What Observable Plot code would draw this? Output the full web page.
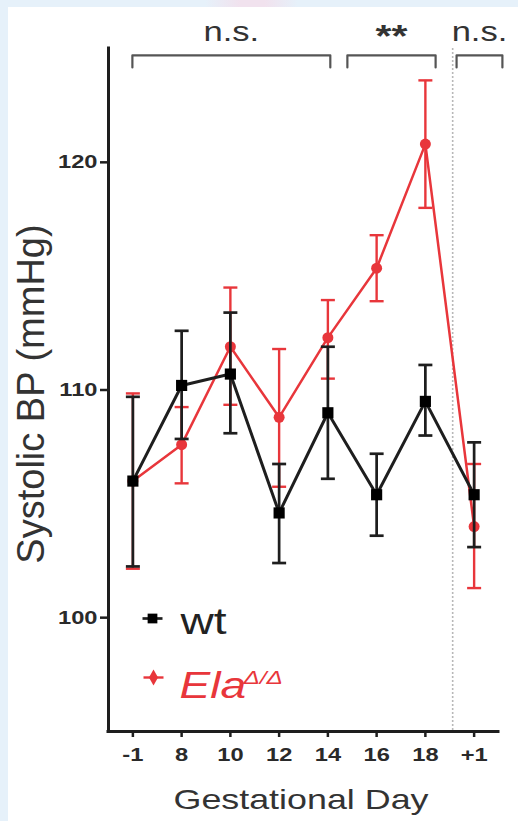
<!DOCTYPE html>
<html><head><meta charset="utf-8">
<script src="https://cdn.jsdelivr.net/npm/d3@7"></script>
<script src="https://cdn.jsdelivr.net/npm/@observablehq/plot@0.6"></script>
<style>
html,body{margin:0;padding:0;background:#fff;}
#chart svg{display:block;}
</style></head><body><div id="chart"></div>
<script>
// ---- data ----
const days = ["-1","8","10","12","14","16","18","+1"];
const wtMean = [106.0,110.2,110.7,104.6,109.0,105.4,109.5,105.4];
const wtLo   = [102.25,107.85,108.1,102.4,106.1,103.6,108.0,103.1];
const wtHi   = [109.7,112.6,113.4,106.75,111.9,107.2,111.1,107.7];
const elaMean = [106.0,107.6,111.9,108.8,112.3,115.35,120.8,104.0];
const elaLo   = [102.15,105.9,109.35,105.75,110.5,113.9,118.0,101.3];
const elaHi   = [109.85,109.25,114.5,111.8,113.95,116.8,123.6,106.75];
const yTicks = [100,110,120];
const sigLabels = ["n.s.","**","n.s."];
const sigStart = [-0.01, 4.40, 6.64];   // day-index units
const sigEnd   = [4.05, 6.21, 7.58];
const separatorAt = 6.56;               // between day 18 and +1

// ---- tables ----
const wt = days.map((d,i)=>({i, mean:wtMean[i], lo:wtLo[i], hi:wtHi[i]}));
const ela = days.map((d,i)=>({i, mean:elaMean[i], lo:elaLo[i], hi:elaHi[i]}));
const caps = rows => rows.flatMap(r=>[{i:r.i,y:r.lo},{i:r.i,y:r.hi}]);
const bracketTop = 124.7, bracketLeg = 124.17;
const brackets = sigLabels.flatMap((s,k)=>[
  {k,x:sigStart[k],y:bracketLeg},{k,x:sigStart[k],y:bracketTop},
  {k,x:sigEnd[k],y:bracketTop},{k,x:sigEnd[k],y:bracketLeg}]);
const sig = sigLabels.map((s,k)=>({s, x:(sigStart[k]+sigEnd[k])/2}));

const BLACK = "#1e1e1e", RED = "#e8363b";
const capSymbol = w => ({draw(ctx){ ctx.moveTo(-w,0); ctx.lineTo(w,0); }});

const svg = Plot.plot({
  width: 518, height: 821,
  marginLeft: 108, marginRight: 20, marginTop: 48, marginBottom: 90,
  style: "font-family: 'Liberation Sans', Arial, sans-serif; color:#222;" +
    "background: linear-gradient(to right, #e6f1fa 8px, rgba(255,255,255,0) 8px)," +
    "linear-gradient(to right, rgba(243,227,237,0) 205px, #f1e2ee 240px, #f1e2ee 265px, rgba(243,227,237,0) 298px) 0 0 / 100% 7px no-repeat," +
    "linear-gradient(to bottom, #e6f1fa 7px, #ffffff 7px);",
  x: {type: "linear", domain: [-0.5, 7.5]},
  y: {domain: [95, 125]},
  marks: [
    // separator
    Plot.ruleX([separatorAt], {stroke: "#b8b8b8", strokeWidth: 1.6, strokeDasharray: "2,2"}),
    // significance brackets
    Plot.line(brackets, {x: "x", y: "y", z: "k", stroke: "#555", strokeWidth: 2.2}),
    Plot.text(sig.filter(d=>d.s!=="**"), {x: "x", y: 125.35, text: "s", lineAnchor: "bottom", fontSize: 27, fill: "#333"}),
    Plot.text(sig.filter(d=>d.s==="**"), {x: "x", y: 125.35, text: "s", lineAnchor: "bottom", dy: 6, fontSize: 32, fontWeight: "bold", fill: "#333"}),
    // Ela series
    Plot.ruleX(ela, {x: "i", y1: "lo", y2: "hi", stroke: RED, strokeWidth: 2.4}),
    Plot.dot(caps(ela), {x: "i", y: "y", symbol: capSymbol(7), stroke: RED, strokeWidth: 2.4, fill: "none"}),
    Plot.line(ela, {x: "i", y: "mean", stroke: RED, strokeWidth: 2.5}),
    Plot.dot(ela, {x: "i", y: "mean", r: 5.5, fill: RED}),
    // wt series
    Plot.ruleX(wt, {x: "i", y1: "lo", y2: "hi", stroke: BLACK, strokeWidth: 2.7}),
    Plot.dot(caps(wt), {x: "i", y: "y", symbol: capSymbol(7), stroke: BLACK, strokeWidth: 2.7, fill: "none"}),
    Plot.line(wt, {x: "i", y: "mean", stroke: BLACK, strokeWidth: 3}),
    Plot.dot(wt, {x: "i", y: "mean", symbol: "square", r: 6.3, fill: "#000"}),
    // axes
    Plot.axisY({ticks: yTicks, tickSize: 8, tickPadding: 3, fontSize: 18.5, fontWeight: "bold", label: null, stroke: BLACK, strokeWidth: 2.5, fill: "#2a2a2a"}),
    Plot.axisX({ticks: d3.range(days.length), tickFormat: i => days[i], tickSize: 6, tickPadding: 10, fontSize: 18.5, fontWeight: "bold", label: null, stroke: BLACK, strokeWidth: 2.5, fill: "#2a2a2a"}),
    Plot.ruleX([-0.5], {stroke: BLACK, strokeWidth: 3, strokeLinecap: "square"}),
    Plot.ruleY([95], {stroke: BLACK, strokeWidth: 3, strokeLinecap: "square"}),
    // axis titles
    Plot.text(["Systolic BP (mmHg)"], {frameAnchor: "left", textAnchor: "middle", rotate: -90, dx: -77, dy: 4, fontSize: 38, fill: "#333"}),
    Plot.text(["Gestational Day"], {frameAnchor: "bottom", lineAnchor: "bottom", dx: -2.5, dy: 77, fontSize: 28, fill: "#333"}),
    // legend
    Plot.dot([0], {frameAnchor: "bottom-left", dx: 44, dy: -113, symbol: capSymbol(10), stroke: BLACK, strokeWidth: 2.7}),
    Plot.dot([0], {frameAnchor: "bottom-left", dx: 44, dy: -113, symbol: "square", r: 5.5, fill: "#000"}),
    Plot.text(["wt"], {frameAnchor: "bottom-left", textAnchor: "start", lineAnchor: "bottom", dx: 72, dy: -98, fontSize: 36, fill: "#222"}),
    Plot.dot([0], {frameAnchor: "bottom-left", dx: 45, dy: -54, symbol: capSymbol(10), stroke: RED, strokeWidth: 2.4}),
    Plot.dot([0], {frameAnchor: "bottom-left", dx: 45, dy: -54, symbol: "diamond", r: 4.8, fill: RED}),
    Plot.text(["Ela"], {frameAnchor: "bottom-left", textAnchor: "start", lineAnchor: "bottom", dx: 71, dy: -34, fontSize: 36, fontStyle: "italic", fill: RED}),
    Plot.text(["Δ/Δ"], {frameAnchor: "bottom-left", textAnchor: "start", lineAnchor: "bottom", dx: 135, dy: -48, fontSize: 19, fontStyle: "italic", fill: RED})
  ]
});
document.getElementById("chart").append(svg);
// the reference figure is horizontally stretched: widen the horizontal texts
const K = 1.28;
svg.querySelectorAll("text").forEach(t => {
  if (t.textContent.startsWith("Systolic")) return;
  const L = t.getComputedTextLength();
  if (L > 0) { t.setAttribute("textLength", (L*K).toFixed(1)); t.setAttribute("lengthAdjust", "spacingAndGlyphs"); }
});
</script></body></html>
